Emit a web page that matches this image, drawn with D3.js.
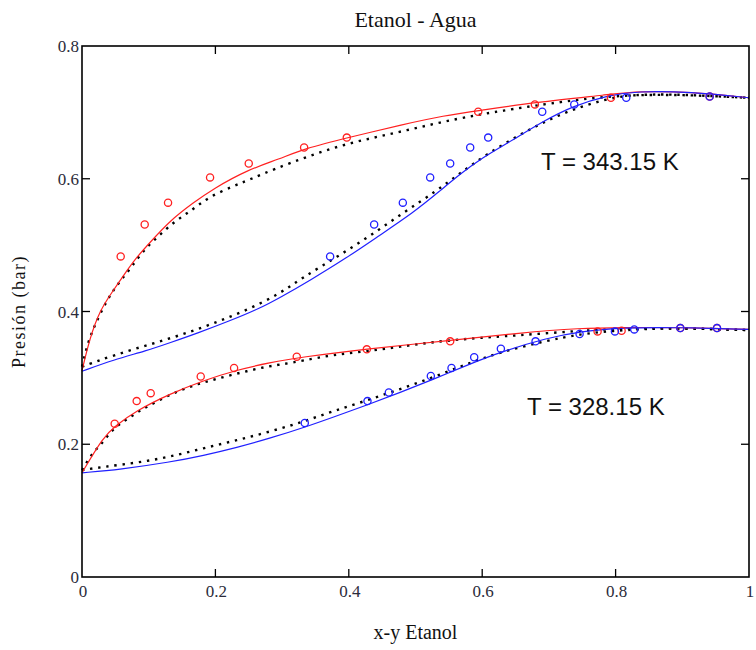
<!DOCTYPE html>
<html lang="es">
<head>
<meta charset="UTF-8">
<title>Etanol - Agua</title>
<script src="https://d3js.org/d3.v7.min.js"></script>
<style>
  body { margin: 0; background: #fff; }
  .tick-label { font-family: "Liberation Serif", "Times New Roman", serif; font-size: 17px; fill: #2b2b3a; }
  .title, .axis-title { font-family: "Liberation Serif", "Times New Roman", serif; fill: #111; }
  .temp { font-family: "Liberation Sans", Arial, sans-serif; font-size: 24px; fill: #111; }
</style>
</head>
<body>
<div id="chart"></div>
<script>
// ---- datos ----
// T = 343.15 K
var bubX343 = [0, 0.012, 0.027, 0.045, 0.062, 0.082, 0.102, 0.132, 0.167, 0.197, 0.247, 0.297, 0.332, 0.399, 0.482, 0.542, 0.597, 0.679, 0.792, 0.832, 0.912, 1.0];
var bubP343 = [0.311, 0.361, 0.402, 0.429, 0.454, 0.482, 0.504, 0.537, 0.564, 0.585, 0.613, 0.630, 0.645, 0.662, 0.682, 0.695, 0.703, 0.715, 0.727, 0.732, 0.731, 0.722];
var dewX343 = [0, 0.047, 0.097, 0.132, 0.172, 0.222, 0.267, 0.297, 0.342, 0.397, 0.442, 0.497, 0.537, 0.567, 0.597, 0.647, 0.692, 0.737, 0.787, 0.832, 0.912, 1.0];
var dewP343 = [0.310, 0.327, 0.341, 0.353, 0.367, 0.386, 0.405, 0.421, 0.447, 0.481, 0.512, 0.549, 0.582, 0.607, 0.630, 0.659, 0.687, 0.710, 0.725, 0.732, 0.731, 0.722];
var modBubX343 = [0, 0.009, 0.019, 0.037, 0.054, 0.072, 0.092, 0.114, 0.139, 0.164, 0.189, 0.227, 0.252, 0.289, 0.337, 0.387, 0.437, 0.487, 0.537, 0.587, 0.627, 0.697, 0.797, 0.897, 1.0];
var modBubP343 = [0.317, 0.354, 0.379, 0.417, 0.442, 0.464, 0.492, 0.513, 0.536, 0.552, 0.572, 0.589, 0.599, 0.615, 0.633, 0.650, 0.662, 0.673, 0.685, 0.695, 0.702, 0.713, 0.726, 0.727, 0.722];
var modDewX343 = [0, 0.047, 0.097, 0.147, 0.197, 0.247, 0.297, 0.332, 0.382, 0.432, 0.482, 0.532, 0.569, 0.607, 0.657, 0.707, 0.757, 0.807, 0.847, 0.897, 1.0];
var modDewP343 = [0.317, 0.334, 0.349, 0.364, 0.382, 0.402, 0.427, 0.452, 0.482, 0.514, 0.549, 0.582, 0.610, 0.637, 0.667, 0.693, 0.712, 0.725, 0.727, 0.727, 0.722];
var expX343 = [0.058, 0.094, 0.129, 0.192, 0.250, 0.333, 0.397, 0.594, 0.679, 0.793, 0.941];
var expY343 = [0.372, 0.438, 0.481, 0.522, 0.552, 0.582, 0.609, 0.690, 0.738, 0.816, 0.941];
var expP343 = [0.483, 0.531, 0.564, 0.602, 0.623, 0.647, 0.662, 0.701, 0.712, 0.722, 0.724];

// T = 328.15 K
var bubX328 = [0, 0.032, 0.049, 0.082, 0.132, 0.182, 0.232, 0.282, 0.327, 0.427, 0.552, 0.657, 0.747, 0.812, 0.897, 1.0];
var bubP328 = [0.157, 0.211, 0.227, 0.251, 0.276, 0.296, 0.312, 0.323, 0.331, 0.344, 0.356, 0.368, 0.375, 0.376, 0.376, 0.373];
var dewX328 = [0, 0.057, 0.132, 0.182, 0.232, 0.282, 0.335, 0.377, 0.427, 0.477, 0.527, 0.577, 0.627, 0.697, 0.747, 0.812, 0.897, 1.0];
var dewP328 = [0.157, 0.162, 0.173, 0.183, 0.195, 0.209, 0.226, 0.241, 0.259, 0.278, 0.298, 0.319, 0.339, 0.360, 0.370, 0.376, 0.376, 0.373];
var modBubX328 = [0, 0.015, 0.027, 0.037, 0.049, 0.062, 0.074, 0.087, 0.099, 0.124, 0.149, 0.174, 0.197, 0.222, 0.247, 0.272, 0.297, 0.332, 0.377, 0.427, 0.477, 0.527, 0.577, 0.652, 0.747, 0.822, 0.897, 1.0];
var modBubP328 = [0.161, 0.186, 0.198, 0.211, 0.225, 0.234, 0.242, 0.251, 0.257, 0.271, 0.282, 0.291, 0.297, 0.304, 0.310, 0.316, 0.320, 0.326, 0.335, 0.340, 0.347, 0.354, 0.359, 0.364, 0.371, 0.375, 0.375, 0.372];
var modDewX328 = [0, 0.032, 0.082, 0.132, 0.182, 0.232, 0.282, 0.332, 0.377, 0.427, 0.477, 0.527, 0.577, 0.627, 0.697, 0.747, 0.797, 0.847, 0.897, 1.0];
var modDewP328 = [0.161, 0.166, 0.172, 0.181, 0.194, 0.206, 0.219, 0.234, 0.250, 0.266, 0.283, 0.301, 0.321, 0.339, 0.356, 0.366, 0.371, 0.374, 0.375, 0.372];
var expX328 = [0.049, 0.082, 0.103, 0.178, 0.228, 0.322, 0.427, 0.552, 0.773, 0.809, 0.897, 0.952];
var expPx328 = [0.231, 0.265, 0.277, 0.302, 0.315, 0.332, 0.343, 0.355, 0.370, 0.371, 0.375, 0.375];
var expY328 = [0.334, 0.428, 0.460, 0.523, 0.554, 0.588, 0.628, 0.680, 0.746, 0.799, 0.828, 0.897, 0.952];
var expPy328 = [0.232, 0.265, 0.278, 0.303, 0.315, 0.331, 0.344, 0.355, 0.366, 0.370, 0.373, 0.375, 0.375];

var xTicks = [0, 0.2, 0.4, 0.6, 0.8, 1];
var yTicks = [0, 0.2, 0.4, 0.6, 0.8];
var xTickText = ["0", "0.2", "0.4", "0.6", "0.8", "1"];
var yTickText = ["0", "0.2", "0.4", "0.6", "0.8"];

// ---- dibujo ----
var W = 756, H = 650;
var mLeft = 82, mRight = 749, mTop = 46, mBottom = 577;

var svg = d3.select("#chart").append("svg")
    .attr("width", W)
    .attr("height", H);

var x = d3.scaleLinear().domain([0, 1]).range([mLeft, mRight]);
var y = d3.scaleLinear().domain([0, 0.8]).range([mBottom, mTop]);

function zip(xs, ps) {
    return xs.map(function(v, i) { return [v, ps[i]]; });
}

// suavizado: las lecturas tienen algo de ruido
var line = d3.line()
    .x(function(d) { return x(d[0]); })
    .y(function(d) { return y(d[1]); })
    .curve(d3.curveBasis);

var plot = svg.append("g");

// curvas del modelo (puntos negros)
[[modBubX343, modBubP343], [modDewX343, modDewP343], [modBubX328, modBubP328], [modDewX328, modDewP328]]
  .forEach(function(c) {
    plot.append("path")
        .attr("d", line(zip(c[0], c[1])))
        .attr("fill", "none")
        .attr("stroke", "#000")
        .attr("stroke-width", 2.4)
        .attr("stroke-dasharray", "2.4,5.8");
  });

// curvas experimentales suavizadas
[[bubX343, bubP343, "#ff2020"], [dewX343, dewP343, "#2020ff"], [bubX328, bubP328, "#ff2020"], [dewX328, dewP328, "#2020ff"]]
  .forEach(function(c) {
    plot.append("path")
        .attr("d", line(zip(c[0], c[1])))
        .attr("fill", "none")
        .attr("stroke", c[2])
        .attr("stroke-width", 1.2);
  });

// puntos experimentales
function circles(xs, ps, color) {
    plot.selectAll(null)
        .data(zip(xs, ps))
        .enter().append("circle")
        .attr("cx", function(d) { return x(d[0]); })
        .attr("cy", function(d) { return y(d[1]); })
        .attr("r", 3.6)
        .attr("fill", "none")
        .attr("stroke", color)
        .attr("stroke-width", 1.3);
}
circles(expX343, expP343, "#ff2020");
circles(expY343, expP343, "#2020ff");
circles(expX328, expPx328, "#ff2020");
circles(expY328, expPy328, "#2020ff");

// marco
svg.append("rect")
    .attr("x", mLeft).attr("y", mTop)
    .attr("width", mRight - mLeft).attr("height", mBottom - mTop)
    .attr("fill", "none").attr("stroke", "#000").attr("stroke-width", 1.6);

// marcas hacia dentro
var tl = 8;
xTicks.slice(1, -1).forEach(function(t) {
    svg.append("line").attr("x1", x(t)).attr("x2", x(t)).attr("y1", mBottom).attr("y2", mBottom - tl)
        .attr("stroke", "#000").attr("stroke-width", 1.3);
    svg.append("line").attr("x1", x(t)).attr("x2", x(t)).attr("y1", mTop).attr("y2", mTop + tl)
        .attr("stroke", "#000").attr("stroke-width", 1.3);
});
yTicks.slice(1, -1).forEach(function(t) {
    svg.append("line").attr("x1", mLeft).attr("x2", mLeft + tl).attr("y1", y(t)).attr("y2", y(t))
        .attr("stroke", "#000").attr("stroke-width", 1.3);
    svg.append("line").attr("x1", mRight).attr("x2", mRight - tl).attr("y1", y(t)).attr("y2", y(t))
        .attr("stroke", "#000").attr("stroke-width", 1.3);
});

// etiquetas de los ejes
svg.selectAll(null).data(xTicks).enter().append("text")
    .attr("class", "tick-label")
    .attr("x", function(d) { return x(d) + 1; })
    .attr("y", mBottom + 20)
    .attr("text-anchor", "middle")
    .text(function(d, i) { return xTickText[i]; });

svg.selectAll(null).data(yTicks).enter().append("text")
    .attr("class", "tick-label")
    .attr("x", mLeft - 3)
    .attr("y", function(d) { return y(d) + 6; })
    .attr("text-anchor", "end")
    .text(function(d, i) { return yTickText[i]; });

svg.append("text")
    .attr("class", "title")
    .attr("x", (mLeft + mRight) / 2)
    .attr("y", 27)
    .attr("text-anchor", "middle")
    .style("font-size", "22px")
    .text("Etanol - Agua");

svg.append("text")
    .attr("class", "axis-title")
    .attr("x", (mLeft + mRight) / 2)
    .attr("y", 639)
    .attr("text-anchor", "middle")
    .style("font-size", "20px")
    .text("x-y Etanol");

svg.append("text")
    .attr("class", "axis-title")
    .attr("transform", "translate(25," + ((mTop + mBottom) / 2) + ") rotate(-90)")
    .attr("text-anchor", "middle")
    .style("font-size", "18px")
    .style("letter-spacing", "1.5px")
    .text("Presión (bar)");

svg.append("text").attr("class", "temp")
    .attr("x", 541).attr("y", 170)
    .text("T = 343.15 K");

svg.append("text").attr("class", "temp")
    .attr("x", 527).attr("y", 415)
    .text("T = 328.15 K");
</script>
</body>
</html>
